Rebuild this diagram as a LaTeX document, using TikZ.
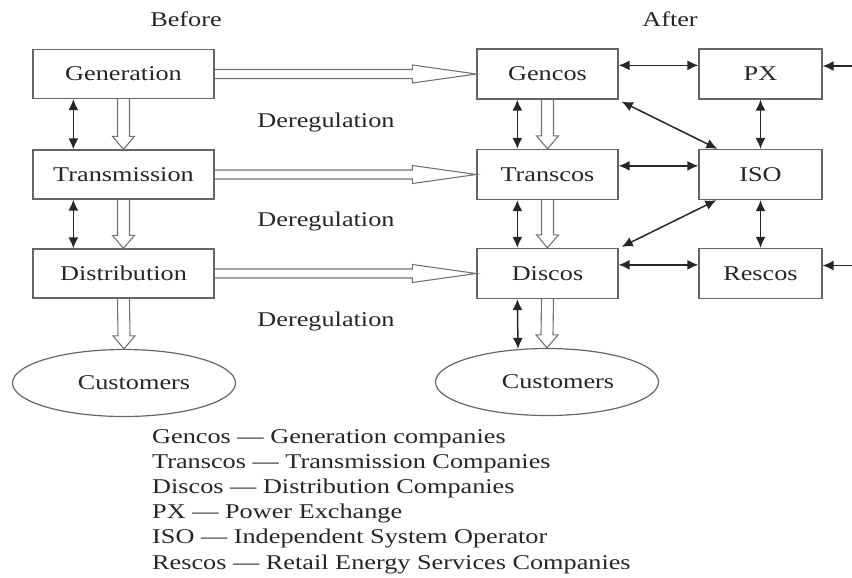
\documentclass[tikz,border=0pt]{standalone}
\usepackage{fontspec}
\setmainfont{Liberation Serif}[FakeStretch=1.25]
\usetikzlibrary{arrows.meta,calc,shapes.geometric}
\newcommand\dfont{\fontsize{21}{25}\selectfont}
\newcommand\hollowH[2]{%
  \draw[hollow] ([yshift=4.5pt]#1.east) -- ([xshift=-64pt,yshift=4.5pt]#2.west)
    -- ([xshift=-64pt,yshift=9pt]#2.west) -- (#2.west)
    -- ([xshift=-64pt,yshift=-9pt]#2.west) -- ([xshift=-64pt,yshift=-4.5pt]#2.west)
    -- ([yshift=-4.5pt]#1.east);}
\newcommand\hollowV[2]{%
  \draw[hollow] ([xshift=-6pt]#1.south) -- ([xshift=-6pt,yshift=13pt]#2.north)
    -- ([xshift=-11pt,yshift=13pt]#2.north) -- (#2.north)
    -- ([xshift=11pt,yshift=13pt]#2.north) -- ([xshift=6pt,yshift=13pt]#2.north)
    -- ([xshift=6pt]#1.south);}
\tikzset{
  box/.style={draw=black!60, line width=1.3pt, minimum height=49pt, inner sep=0pt,
    text=black!85, font=\dfont},
  lbox/.style={box, minimum width=181pt},
  mbox/.style={box, minimum width=141pt, minimum height=50pt},
  rbox/.style={box, minimum width=123pt, minimum height=50pt},
  cust/.style={ellipse, draw=black!60, line width=1.2pt, inner sep=0pt,
    minimum width=223pt, minimum height=67pt, text=black!85, font=\dfont},
  lbl/.style={text=black!85, font=\dfont, inner sep=0pt},
  biarrow/.style={line width=1.5pt, draw=black!85,
    {Latex[length=11pt,width=10pt]}-{Latex[length=11pt,width=10pt]}},
  oneway/.style={line width=1.5pt, draw=black!85, -{Latex[length=11pt,width=10pt]}},
  hollow/.style={draw=black!55, line width=1.1pt, line join=miter},
}
\begin{document}
\begin{tikzpicture}[x=1pt,y=-1pt]
\useasboundingbox (0,0) rectangle (852,578);
% titles
\node[lbl, anchor=base] (before) at (186,27) {Before};
\node[lbl, anchor=base] (after) at (670,27) {After};
% before column
\node[lbox] (gen) at (123.5,74) {Generation};
\node[lbox] (trans) at (123.5,174.5) {Transmission};
\node[lbox] (dist) at (123.5,273.5) {Distribution};
\node[cust] (custL) at (124,383) {\hspace*{20pt}Customers};
% after column
\node[mbox] (gencos) at (547.5,74) {Gencos};
\node[mbox] (transcos) at (547.5,174.5) {Transcos};
\node[mbox] (discos) at (547.5,273.5) {Discos};
\node[cust] (custR) at (547,382) {\hspace*{22pt}Customers};
\node[rbox] (px) at (760.5,74) {PX};
\node[rbox] (iso) at (760.5,174.5) {ISO};
\node[rbox] (rescos) at (760.5,273.5) {Rescos};
% deregulation labels
\node[lbl, anchor=base] (d1) at (326,127) {Deregulation};
\node[lbl, anchor=base] (d2) at (326,226) {Deregulation};
\node[lbl, anchor=base] (d3) at (326,326) {Deregulation};
% horizontal hollow arrows
\hollowH{gen}{gencos}
\hollowH{trans}{transcos}
\hollowH{dist}{discos}
% vertical hollow arrows
\hollowV{gen}{trans}
\hollowV{trans}{dist}
\hollowV{dist}{custL}
\hollowV{gencos}{transcos}
\hollowV{transcos}{discos}
\hollowV{discos}{custR}
% vertical double arrows
\draw[biarrow] ([xshift=41pt]gen.south west) -- ([xshift=41pt]trans.north west);
\draw[biarrow] ([xshift=41pt]trans.south west) -- ([xshift=41pt]dist.north west);
\draw[biarrow] ([xshift=41pt]gencos.south west) -- ([xshift=41pt]transcos.north west);
\draw[biarrow] ([xshift=41pt]transcos.south west) -- ([xshift=41pt]discos.north west);
\draw[biarrow] ([xshift=41pt]discos.south west) -- ([xshift=-29pt,yshift=-1pt]custR.north);
% right side arrows
\draw[biarrow] ([yshift=-17pt]gencos.north east) -- ([yshift=-17pt]px.north west);
\draw[biarrow] ([yshift=-17pt]transcos.north east) -- ([yshift=-17pt]iso.north west);
\draw[biarrow] ([yshift=-17pt]discos.north east) -- ([yshift=-17pt]rescos.north west);
\draw[biarrow] (px.south) -- (iso.north);
\draw[biarrow] (iso.south) -- (rescos.north);
\draw[biarrow] ([xshift=3pt,yshift=-2pt]gencos.south east) -- ([xshift=19pt]iso.north west);
\draw[biarrow] ([xshift=18pt]iso.south west) -- ([xshift=3pt,yshift=1pt]discos.north east);
\coordinate (pxin) at (852,66);
\coordinate (rsin) at (852,265.5);
\draw[oneway] (pxin) -- (pxin -| px.east);
\draw[oneway] (rsin) -- (rsin -| rescos.east);
% legend
\node[lbl, anchor=base west] (l1) at (152,443) {Gencos — Generation companies};
\node[lbl, anchor=base west] (l2) at (152,468.2) {Transcos — Transmission Companies};
\node[lbl, anchor=base west] (l3) at (152,493.4) {Discos — Distribution Companies};
\node[lbl, anchor=base west] (l4) at (152,518.6) {PX — Power Exchange};
\node[lbl, anchor=base west] (l5) at (152,543.8) {ISO — Independent System Operator};
\node[lbl, anchor=base west] (l6) at (152,569) {Rescos — Retail Energy Services Companies};
\end{tikzpicture}
\end{document}
